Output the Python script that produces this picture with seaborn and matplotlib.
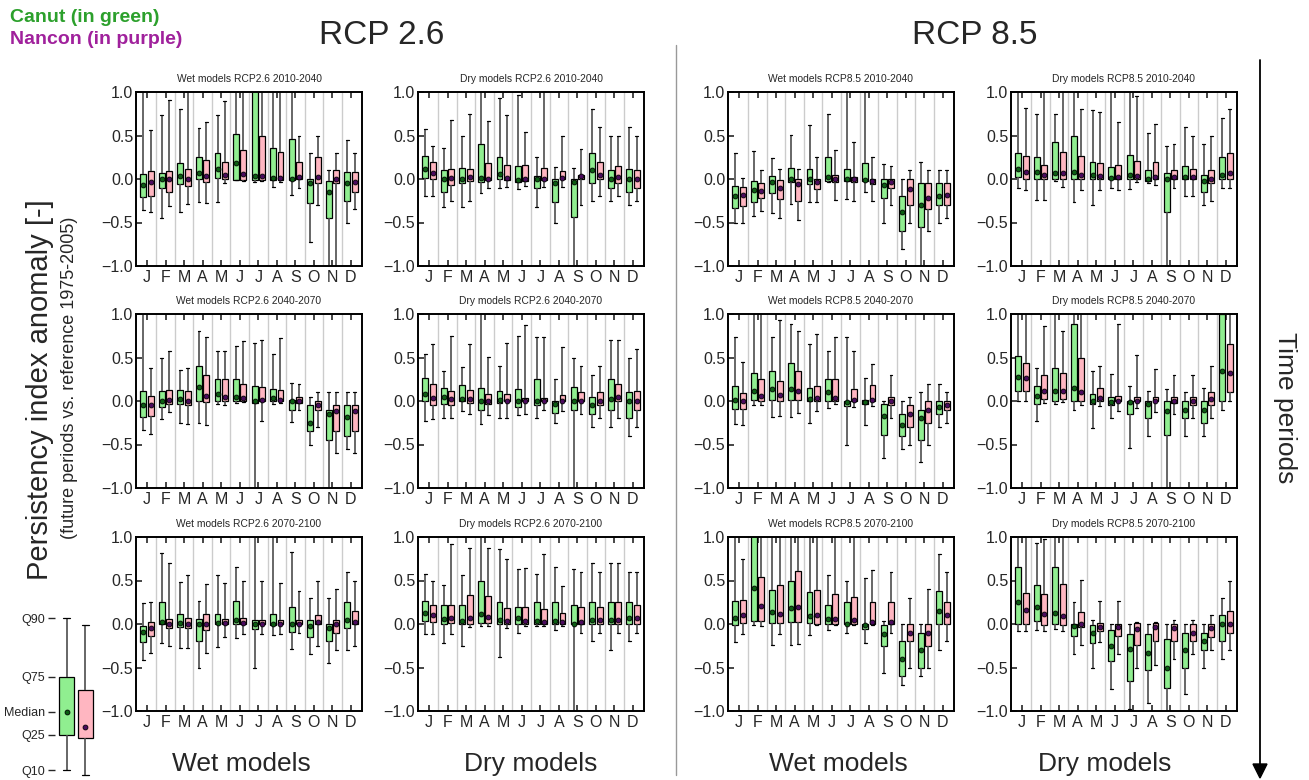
import numpy as np
import pandas as pd
import matplotlib
matplotlib.use("Agg")
import matplotlib.pyplot as plt
import seaborn as sns

months = ["J", "F", "M", "A", "M", "J", "J", "A", "S", "O", "N", "D"]
stats = ["q10", "q25", "q50", "q75", "q90"]
models = ["Canut", "Nancon"]

# each row: q10, q25, median, q75, q90 for one month (values above 1 are clipped by the axis)
wet26_2010_canut = [[-0.36, -0.21, -0.07, 0.06, 1.1], [-0.45, -0.10, 0.00, 0.07, 0.74], [-0.38, -0.06, 0.04, 0.18, 0.81],
                    [-0.26, 0.00, 0.07, 0.25, 0.59], [-0.26, 0.01, 0.12, 0.30, 0.74], [-0.01, -0.01, 0.18, 0.52, 1.1],
                    [-0.03, -0.01, 0.03, 1.1, 1.1], [-0.09, -0.01, 0.01, 0.36, 1.1], [-0.18, -0.01, 0.00, 0.46, 1.1],
                    [-0.72, -0.28, -0.05, 0.00, 0.30], [-1.1, -0.45, -0.15, -0.02, 0.10], [-0.50, -0.25, -0.05, 0.08, 0.45]]
wet26_2010_nancon = [[-0.38, -0.19, -0.03, 0.09, 0.56], [-0.31, -0.15, 0.00, 0.09, 0.91], [-0.29, -0.08, 0.00, 0.11, 1.1],
                     [-0.28, -0.03, 0.03, 0.22, 0.66], [-0.05, 0.00, 0.05, 0.19, 0.90], [-0.02, -0.01, 0.06, 0.33, 1.1],
                     [-0.02, -0.01, 0.04, 0.50, 1.1], [-0.04, -0.01, 0.01, 0.31, 1.1], [-0.10, 0.00, 0.02, 0.20, 0.50],
                     [-0.30, -0.05, 0.02, 0.25, 0.50], [-1.0, -0.05, 0.00, 0.10, 0.30], [-0.35, -0.15, -0.03, 0.08, 0.30]]
dry26_2010_canut = [[-0.20, 0.01, 0.11, 0.26, 0.57], [-0.32, -0.15, 0.00, 0.10, 0.36], [-0.32, -0.05, 0.00, 0.13, 0.50],
                    [-0.16, -0.04, 0.01, 0.40, 1.1], [-0.10, 0.00, 0.06, 0.25, 0.93], [-0.12, -0.04, -0.01, 0.15, 0.96],
                    [-0.32, -0.10, 0.00, 0.04, 0.25], [-0.50, -0.26, -0.05, 0.00, 0.14], [-1.1, -0.44, -0.04, 0.00, 0.13],
                    [-0.25, -0.05, 0.10, 0.30, 0.80], [-0.25, -0.10, 0.00, 0.10, 0.50], [-0.30, -0.15, 0.00, 0.12, 0.60]]
dry26_2010_nancon = [[-0.19, 0.00, 0.07, 0.19, 0.38], [-0.25, -0.07, 0.01, 0.11, 0.68], [-0.25, -0.02, 0.02, 0.12, 0.75],
                     [-0.10, -0.01, 0.00, 0.18, 0.67], [-0.09, -0.01, 0.01, 0.16, 0.74], [-0.08, -0.02, 0.00, 0.16, 0.54],
                     [-0.09, -0.01, 0.00, 0.13, 1.1], [-0.09, 0.00, 0.01, 0.09, 0.50], [-0.30, 0.00, 0.03, 0.05, 0.35],
                     [-0.20, 0.00, 0.05, 0.20, 0.60], [-0.20, -0.05, 0.02, 0.15, 0.50], [-0.25, -0.10, 0.00, 0.10, 0.50]]
wet85_2010_canut = [[-0.50, -0.33, -0.20, -0.08, 0.30], [-0.42, -0.26, -0.13, -0.02, 0.32], [-0.39, -0.16, -0.03, 0.04, 0.24],
                    [-0.29, -0.04, 0.00, 0.13, 0.51], [-0.26, -0.06, 0.00, 0.12, 0.62], [-0.04, -0.02, 0.02, 0.25, 0.75],
                    [-0.23, -0.02, 0.00, 0.11, 1.1], [-0.15, -0.02, -0.01, 0.18, 1.1], [-0.50, -0.22, -0.07, 0.00, 0.17],
                    [-0.80, -0.60, -0.38, -0.20, 0.00], [-1.0, -0.55, -0.30, -0.05, 0.20], [-0.50, -0.30, -0.20, -0.05, 0.10]]
wet85_2010_nancon = [[-0.50, -0.31, -0.18, -0.09, 0.01], [-0.37, -0.22, -0.14, -0.05, 0.10], [-0.45, -0.23, -0.10, -0.01, 0.11],
                     [-0.47, -0.25, -0.06, 0.00, 0.12], [-0.27, -0.12, -0.03, 0.00, 0.25], [-0.24, -0.04, 0.00, 0.05, 0.33],
                     [-0.25, -0.04, 0.00, 0.02, 0.43], [-0.25, -0.06, -0.02, 0.00, 0.25], [-0.30, -0.10, -0.03, 0.00, 0.15],
                     [-0.50, -0.30, -0.12, 0.00, 0.10], [-0.60, -0.35, -0.22, -0.05, 0.10], [-0.45, -0.30, -0.18, -0.05, 0.10]]
dry85_2010_canut = [[-0.10, 0.02, 0.12, 0.30, 1.1], [-0.24, 0.00, 0.08, 0.25, 0.75], [-0.02, 0.00, 0.07, 0.42, 0.75],
                    [-0.26, 0.00, 0.08, 0.50, 1.1], [-0.30, 0.00, 0.05, 0.20, 0.79], [-0.10, 0.00, 0.01, 0.14, 1.1],
                    [-0.12, 0.00, 0.05, 0.28, 1.1], [-0.05, -0.02, 0.00, 0.10, 0.53], [-1.1, -0.38, 0.00, 0.07, 0.38],
                    [-0.20, 0.00, 0.02, 0.15, 0.60], [-0.30, -0.15, -0.02, 0.05, 0.40], [-0.10, 0.00, 0.05, 0.25, 0.70]]
dry85_2010_nancon = [[-0.13, 0.00, 0.08, 0.26, 0.82], [-0.24, 0.00, 0.05, 0.16, 1.1], [-0.09, 0.00, 0.07, 0.31, 1.1],
                     [-0.13, 0.00, 0.05, 0.27, 0.80], [-0.13, 0.00, 0.03, 0.18, 0.77], [-0.13, 0.00, 0.02, 0.16, 0.65],
                     [-0.04, 0.00, 0.03, 0.21, 0.95], [-0.07, 0.00, 0.02, 0.19, 0.63], [-0.10, 0.00, 0.02, 0.10, 0.40],
                     [-0.20, 0.00, 0.02, 0.12, 0.50], [-0.25, -0.05, 0.00, 0.10, 0.50], [-0.10, 0.00, 0.07, 0.30, 0.80]]

wet26_2040_canut = [[-0.33, -0.18, -0.05, 0.11, 1.1], [-0.21, -0.07, 0.00, 0.12, 0.50], [-0.25, -0.03, 0.02, 0.13, 0.36],
                    [-0.25, 0.00, 0.16, 0.40, 0.81], [-0.04, 0.00, 0.08, 0.25, 0.57], [-0.02, 0.00, 0.05, 0.25, 0.63],
                    [-1.1, -0.02, 0.00, 0.17, 0.67], [-0.04, 0.00, 0.03, 0.14, 0.54], [-0.24, -0.10, 0.00, 0.01, 0.21],
                    [-0.50, -0.35, -0.25, -0.05, 0.05], [-1.0, -0.45, -0.15, -0.10, 0.10], [-0.55, -0.40, -0.18, -0.05, 0.10]]
wet26_2040_nancon = [[-0.38, -0.17, -0.05, 0.06, 0.38], [-0.13, -0.04, 0.01, 0.13, 0.57], [-0.27, -0.05, 0.00, 0.11, 0.38],
                     [-0.28, -0.01, 0.06, 0.30, 0.73], [-0.05, 0.00, 0.05, 0.25, 0.57], [-0.01, 0.00, 0.04, 0.20, 0.69],
                     [-0.23, 0.00, 0.01, 0.16, 0.70], [-0.02, 0.00, 0.01, 0.13, 0.72], [-0.10, -0.02, 0.00, 0.05, 0.20],
                     [-0.30, -0.10, -0.05, 0.00, 0.10], [-0.60, -0.35, -0.12, -0.05, 0.10], [-0.60, -0.35, -0.12, -0.05, 0.10]]
dry26_2040_canut = [[-0.23, 0.00, 0.08, 0.26, 0.54], [-0.20, -0.03, 0.05, 0.15, 0.35], [-0.12, 0.00, 0.02, 0.18, 0.39],
                    [-0.26, -0.10, 0.00, 0.15, 1.1], [-0.20, -0.02, 0.01, 0.11, 0.40], [-0.16, -0.07, 0.00, 0.14, 0.75],
                    [-0.20, -0.05, 0.00, 0.25, 0.74], [-0.25, -0.14, -0.04, 0.00, 0.25], [-1.1, -0.10, 0.00, 0.16, 0.50],
                    [-0.30, -0.15, -0.05, 0.05, 0.30], [-0.30, -0.10, 0.02, 0.25, 0.70], [-0.40, -0.20, 0.00, 0.10, 0.50]]
dry26_2040_nancon = [[-0.21, -0.05, 0.03, 0.19, 0.65], [-0.20, -0.05, 0.02, 0.11, 0.75], [-0.15, -0.02, 0.02, 0.13, 0.65],
                     [-0.16, -0.03, 0.00, 0.08, 0.51], [-0.19, 0.00, 0.00, 0.08, 0.67], [-0.15, 0.00, 0.00, 0.03, 0.87],
                     [-0.10, 0.00, 0.00, 0.04, 0.74], [-0.12, 0.00, 0.00, 0.07, 0.62], [-0.15, 0.00, 0.00, 0.10, 0.40],
                     [-0.20, -0.05, 0.00, 0.10, 0.40], [-0.20, 0.00, 0.05, 0.20, 0.70], [-0.30, -0.10, 0.00, 0.12, 0.60]]
wet85_2040_canut = [[-0.27, -0.09, 0.01, 0.17, 0.74], [-0.05, 0.01, 0.12, 0.32, 1.1], [-0.18, 0.01, 0.14, 0.34, 0.74],
                    [-0.18, 0.01, 0.14, 0.44, 0.88], [-0.25, 0.00, 0.02, 0.15, 0.66], [-0.08, 0.00, 0.10, 0.25, 0.57],
                    [-0.50, -0.06, -0.01, 0.00, 0.74], [-0.28, -0.04, -0.01, 0.01, 0.26], [-0.66, -0.39, -0.17, -0.03, 0.00],
                    [-0.55, -0.40, -0.28, -0.15, 0.00], [-0.70, -0.45, -0.20, -0.10, 0.10], [-0.30, -0.15, -0.07, 0.00, 0.20]]
wet85_2040_nancon = [[-0.28, -0.09, 0.00, 0.09, 0.45], [-0.05, 0.00, 0.06, 0.25, 1.1], [-0.17, 0.00, 0.07, 0.23, 0.93],
                     [-0.14, 0.01, 0.11, 0.34, 0.80], [-0.12, 0.00, 0.03, 0.17, 0.77], [-0.03, 0.00, 0.04, 0.25, 0.73],
                     [-0.07, 0.00, 0.01, 0.14, 0.58], [-0.06, 0.00, 0.01, 0.18, 0.42], [-0.20, -0.05, 0.00, 0.05, 0.30],
                     [-0.50, -0.30, -0.15, -0.05, 0.05], [-0.50, -0.25, -0.10, 0.00, 0.20], [-0.25, -0.10, -0.05, 0.00, 0.10]]
dry85_2040_canut = [[0.00, 0.12, 0.28, 0.52, 1.1], [-0.23, -0.03, 0.06, 0.17, 0.38], [-0.04, 0.00, 0.12, 0.38, 1.1],
                    [-0.10, 0.00, 0.15, 0.88, 1.1], [-0.31, -0.04, 0.00, 0.08, 0.35], [-0.19, -0.05, -0.01, 0.05, 0.31],
                    [-0.54, -0.15, -0.01, 0.00, 0.17], [-0.40, -0.19, -0.04, 0.00, 0.12], [-1.1, -0.39, -0.12, 0.00, 0.14],
                    [-0.40, -0.20, -0.10, 0.00, 0.10], [-0.40, -0.25, -0.10, 0.00, 0.15], [-0.10, 0.00, 0.35, 1.0, 1.1]]
dry85_2040_nancon = [[0.00, 0.12, 0.26, 0.44, 1.1], [-0.02, 0.02, 0.12, 0.30, 0.86], [-0.01, 0.02, 0.11, 0.32, 0.81],
                     [-0.05, 0.00, 0.10, 0.50, 1.1], [-0.06, 0.00, 0.03, 0.15, 0.40], [-0.12, 0.00, 0.00, 0.06, 0.88],
                     [-0.08, 0.00, 0.00, 0.05, 0.53], [-0.13, 0.00, 0.00, 0.05, 0.37], [-0.15, -0.02, 0.00, 0.05, 0.30],
                     [-0.20, -0.05, 0.00, 0.05, 0.30], [-0.20, -0.05, 0.02, 0.10, 0.40], [0.00, 0.10, 0.32, 0.65, 1.1]]

wet26_2070_canut = [[-0.41, -0.21, -0.09, -0.02, 0.24], [-0.22, 0.00, 0.02, 0.25, 0.82], [-0.28, -0.04, 0.01, 0.12, 0.48],
                    [-0.50, -0.19, 0.00, 0.06, 0.27], [-0.26, 0.00, 0.01, 0.12, 0.56], [-0.16, 0.00, 0.05, 0.27, 0.65],
                    [-0.50, -0.06, 0.00, 0.05, 1.1], [-0.13, -0.01, 0.00, 0.11, 1.1], [-0.29, -0.09, 0.00, 0.20, 0.83],
                    [-0.35, -0.15, -0.02, 0.05, 0.30], [-0.45, -0.20, -0.05, 0.00, 0.30], [-0.30, -0.05, 0.05, 0.25, 0.60]]
wet26_2070_nancon = [[-0.33, -0.14, -0.05, 0.02, 0.25], [-0.25, -0.05, 0.00, 0.06, 0.70], [-0.28, -0.05, 0.00, 0.07, 0.56],
                     [-0.33, -0.07, 0.00, 0.12, 0.46], [-0.15, 0.00, 0.01, 0.06, 0.47], [-0.12, 0.00, 0.01, 0.07, 0.49],
                     [-0.12, 0.00, 0.00, 0.05, 0.49], [-0.12, 0.00, 0.00, 0.05, 0.47], [-0.10, 0.00, 0.00, 0.05, 0.38],
                     [-0.25, 0.00, 0.02, 0.10, 0.50], [-0.30, -0.10, 0.00, 0.05, 0.40], [-0.25, 0.00, 0.02, 0.15, 0.50]]
dry26_2070_canut = [[-0.12, 0.03, 0.13, 0.27, 0.57], [-0.22, 0.00, 0.06, 0.22, 0.45], [-0.25, 0.00, 0.04, 0.22, 0.56],
                    [-0.02, 0.01, 0.11, 0.50, 1.1], [-0.38, 0.00, 0.05, 0.25, 0.86], [-0.10, 0.00, 0.07, 0.20, 0.63],
                    [-0.02, 0.00, 0.03, 0.25, 0.57], [-0.07, 0.00, 0.03, 0.25, 0.65], [-1.1, 0.00, 0.00, 0.22, 0.63],
                    [-0.20, 0.00, 0.05, 0.25, 0.70], [-0.30, 0.00, 0.05, 0.25, 0.70], [-0.20, 0.00, 0.07, 0.25, 0.60]]
dry26_2070_nancon = [[-0.12, 0.02, 0.10, 0.22, 0.50], [-0.12, 0.01, 0.07, 0.22, 0.92], [-0.03, 0.00, 0.07, 0.33, 0.87],
                     [-0.02, 0.01, 0.08, 0.32, 0.87], [-0.05, 0.00, 0.04, 0.18, 0.75], [-0.02, 0.00, 0.04, 0.20, 0.64],
                     [-0.02, 0.00, 0.02, 0.17, 0.81], [-0.02, 0.00, 0.02, 0.13, 0.44], [-0.10, 0.00, 0.02, 0.20, 0.60],
                     [-0.10, 0.00, 0.05, 0.20, 0.60], [-0.10, 0.00, 0.05, 0.25, 0.70], [-0.10, 0.00, 0.07, 0.22, 0.60]]
wet85_2070_canut = [[-0.21, -0.01, 0.07, 0.27, 1.1], [-0.01, 0.04, 0.41, 1.1, 1.1], [-0.24, 0.01, 0.14, 0.39, 1.1],
                    [-0.24, 0.02, 0.18, 0.50, 1.1], [-0.13, 0.01, 0.09, 0.37, 1.1], [-0.07, 0.00, 0.06, 0.22, 0.56],
                    [-0.10, 0.00, 0.00, 0.25, 0.50], [-0.22, -0.06, -0.01, 0.00, 0.53], [-0.56, -0.25, -0.11, -0.01, 0.03],
                    [-0.70, -0.60, -0.40, -0.20, 0.00], [-0.60, -0.50, -0.30, -0.10, 0.00], [-0.30, 0.00, 0.15, 0.38, 0.80]]
wet85_2070_nancon = [[-0.12, 0.01, 0.10, 0.28, 0.75], [-0.02, 0.03, 0.21, 0.54, 1.1], [-0.12, 0.01, 0.12, 0.45, 1.1],
                     [-0.23, 0.02, 0.19, 0.61, 1.1], [-0.01, 0.00, 0.10, 0.39, 1.1], [-0.01, 0.00, 0.06, 0.34, 1.1],
                     [-0.01, 0.00, 0.05, 0.31, 1.1], [-0.01, 0.00, 0.02, 0.25, 0.62], [-0.10, 0.00, 0.02, 0.25, 0.60],
                     [-0.50, -0.20, -0.10, 0.00, 0.30], [-0.50, -0.25, -0.10, 0.00, 0.40], [-0.20, 0.00, 0.10, 0.25, 0.60]]
dry85_2070_canut = [[-0.08, 0.00, 0.25, 0.66, 1.1], [-0.07, 0.03, 0.19, 0.45, 0.93], [-0.06, 0.00, 0.13, 0.66, 1.1],
                    [-0.34, -0.14, -0.02, 0.00, 0.25], [-0.50, -0.22, -0.10, -0.01, 0.05], [-0.75, -0.43, -0.25, -0.07, 0.00],
                    [-0.98, -0.66, -0.29, -0.11, 0.00], [-0.91, -0.53, -0.33, -0.11, 0.00], [-1.1, -0.73, -0.50, -0.17, 0.00],
                    [-0.80, -0.50, -0.30, -0.10, 0.00], [-0.50, -0.30, -0.20, -0.10, 0.00], [-0.40, -0.20, 0.00, 0.10, 0.30]]
dry85_2070_nancon = [[-0.08, 0.00, 0.16, 0.36, 1.1], [-0.08, -0.01, 0.11, 0.34, 0.98], [-0.08, -0.01, 0.09, 0.46, 1.1],
                     [-0.24, -0.04, 0.00, 0.14, 0.51], [-0.21, -0.08, -0.03, 0.01, 0.27], [-0.35, -0.14, -0.04, 0.00, 0.27],
                     [-0.50, -0.24, -0.06, 0.01, 0.02], [-0.47, -0.19, -0.04, 0.01, 0.02], [-0.40, -0.20, -0.05, 0.00, 0.05],
                     [-0.35, -0.20, -0.10, 0.00, 0.05], [-0.30, -0.15, -0.05, 0.00, 0.10], [-0.30, -0.10, 0.00, 0.15, 0.50]]

panel_titles = [["Wet models RCP2.6 2010-2040", "Dry models RCP2.6 2010-2040", "Wet models RCP8.5 2010-2040", "Dry models RCP8.5 2010-2040"],
                ["Wet models RCP2.6 2040-2070", "Dry models RCP2.6 2040-2070", "Wet models RCP8.5 2040-2070", "Dry models RCP8.5 2040-2070"],
                ["Wet models RCP2.6 2070-2100", "Dry models RCP2.6 2070-2100", "Wet models RCP8.5 2070-2100", "Dry models RCP8.5 2070-2100"]]
panel_data = [[(wet26_2010_canut, wet26_2010_nancon), (dry26_2010_canut, dry26_2010_nancon),
               (wet85_2010_canut, wet85_2010_nancon), (dry85_2010_canut, dry85_2010_nancon)],
              [(wet26_2040_canut, wet26_2040_nancon), (dry26_2040_canut, dry26_2040_nancon),
               (wet85_2040_canut, wet85_2040_nancon), (dry85_2040_canut, dry85_2040_nancon)],
              [(wet26_2070_canut, wet26_2070_nancon), (dry26_2070_canut, dry26_2070_nancon),
               (wet85_2070_canut, wet85_2070_nancon), (dry85_2070_canut, dry85_2070_nancon)]]

# legend sketch in the lower left corner (arbitrary units)
legend_labels = ["Q10", "Q25", "Median", "Q75", "Q90"]
legend_canut = [10, 45, 68, 103, 162]
legend_nancon = [5, 42, 53, 90, 155]

box_colors = {"Canut": "#90ee90", "Nancon": "#ffb6c1"}
dot_colors = {"Canut": "#0b5d12", "Nancon": "#4b0a5e"}

sns.set_style("ticks")
plt.rcParams["font.family"] = ["Liberation Sans", "DejaVu Sans"]

W, H = 1309, 780
fig = plt.figure(figsize=(W / 100, H / 100), dpi=100)


def frac(x, y, w, h):
    return [x / W, 1 - (y + h) / H, w / W, h / H]


def long_table(canut, nancon):
    rows = []
    for model, vals in zip(models, [canut, nancon]):
        for m, q in enumerate(vals):
            for s, v in zip(stats, q):
                rows.append({"month": m, "model": model, "stat": s, "value": v})
    return pd.DataFrame(rows)


def draw_boxes(ax, df):
    sns.boxplot(data=df, x="month", y="value", hue="model", hue_order=models, palette=box_colors,
                whis=(0, 100), width=0.8, gap=0.2, saturation=1, showfliers=False,
                linecolor="black", linewidth=0.9,
                whiskerprops={"color": "0.3", "linewidth": 1.2}, capprops={"color": "black"},
                medianprops={"visible": False}, legend=False, ax=ax)
    med = df[df["stat"] == "q50"]
    sns.stripplot(data=med, x="month", y="value", hue="model", hue_order=models, palette=dot_colors,
                  dodge=True, jitter=False, size=3.5, linewidth=0.6, edgecolor="black", legend=False,
                  ax=ax, zorder=5)


lefts = [136, 418, 728, 1011]
tops = [92, 314, 537]
for r in range(3):
    for c in range(4):
        ax = fig.add_axes(frac(lefts[c], tops[r], 226, 174))
        canut, nancon = panel_data[r][c]
        draw_boxes(ax, long_table(canut, nancon))
        for i in range(11):
            ax.axvline(i + 0.5, color="0.8", lw=1.0, zorder=0)
        ax.set_xlim(-0.6, 11.6)
        ax.set_ylim(-1, 1)
        ax.set_yticks([-1, -0.5, 0, 0.5, 1])
        ax.set_xticks(range(12))
        ax.set_xticklabels(months)
        ax.tick_params(direction="in", top=True, length=4, width=1.2, labelsize=11.5, pad=2)
        ax.tick_params(axis="x", pad=3)
        for sp in ax.spines.values():
            sp.set_linewidth(1.4)
            sp.set_color("black")
        ax.set_xlabel("")
        ax.set_ylabel("")
        ax.set_title(panel_titles[r][c], fontsize=7.4, pad=7)

# legend sketch
lax = fig.add_axes(frac(55, 610, 42, 170))
ldf = long_table([legend_canut], [legend_nancon])
draw_boxes(lax, ldf)
lax.set_xlim(-0.45, 0.45)
lax.set_ylim(0, 170)
lax.set_yticks(legend_canut[::-1])
lax.set_yticklabels(legend_labels[::-1])
lax.tick_params(axis="y", labelsize=9, length=5, width=1, pad=2)
lax.set_xticks([])
lax.set_xlabel("")
lax.set_ylabel("")
for sp in lax.spines.values():
    sp.set_visible(False)

# headers and annotations
fig.text(10 / W, 1 - 18 / H, "Canut (in green)", color="#2ca02c", fontsize=14, fontweight="bold", va="center")
fig.text(10 / W, 1 - 40 / H, "Nancon (in purple)", color="#a0219c", fontsize=14, fontweight="bold", va="center")
fig.text(382 / W, 1 - 35 / H, "RCP 2.6", fontsize=24, ha="center", va="center")
fig.text(975 / W, 1 - 35 / H, "RCP 8.5", fontsize=24, ha="center", va="center")
fig.text(40 / W, 1 - 390 / H, "Persistency index anomaly [-]", fontsize=21, rotation=90, ha="center", va="center")
fig.text(70 / W, 1 - 378 / H, "(future periods vs. reference 1975-2005)", fontsize=13, rotation=90, ha="center", va="center")
fig.text(1285 / W, 1 - 408 / H, "Time periods", fontsize=19, rotation=-90, ha="center", va="center")
for x, label in zip([241, 531, 838, 1105], ["Wet models", "Dry models", "Wet models", "Dry models"]):
    fig.text(x / W, 1 - 764 / H, label, fontsize=19, ha="center", va="center")

fig.add_artist(plt.Line2D([676 / W, 676 / W], [1 - 45 / H, 1 - 775 / H], color="0.6", lw=1))
fig.add_artist(plt.Line2D([1260 / W, 1260 / W], [1 - 60 / H, 1 - 768 / H], color="black", lw=1.3))
fig.add_artist(plt.Polygon([[1253 / W, 1 - 764 / H], [1267 / W, 1 - 764 / H], [1260 / W, 1 - 778 / H]],
                           closed=True, color="black"))

fig.savefig("out.png", dpi=100)
